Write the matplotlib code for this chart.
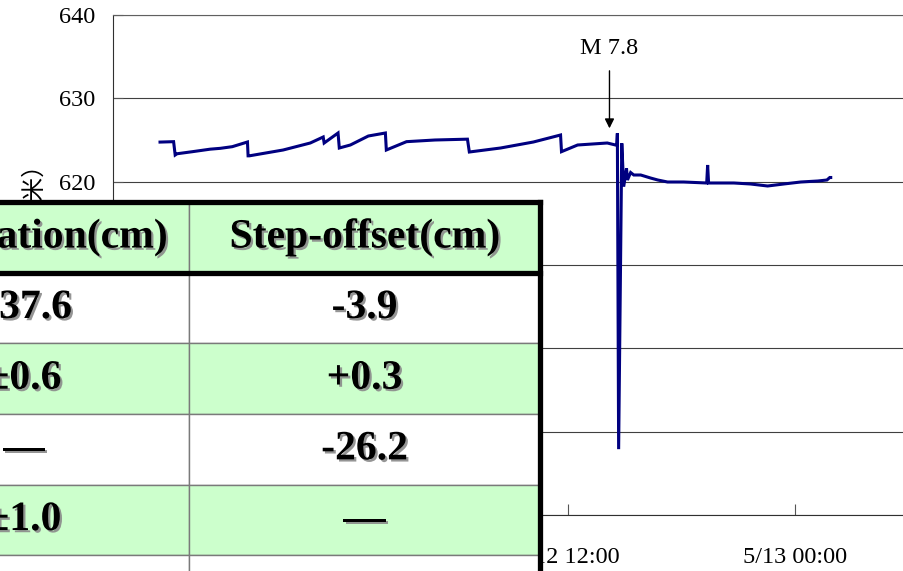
import matplotlib
matplotlib.use("Agg")
import matplotlib.pyplot as plt
import matplotlib.patheffects as pe
import pandas as pd

W, H = 904, 571

# ---------------- data ----------------
times = [
    "2008-05-11 14:29", "2008-05-11 15:12", "2008-05-11 15:17", "2008-05-11 15:23",
    "2008-05-11 16:12", "2008-05-11 17:08", "2008-05-11 17:40", "2008-05-11 18:18",
    "2008-05-11 19:06", "2008-05-11 19:08", "2008-05-11 19:12", "2008-05-11 20:59",
    "2008-05-11 22:25", "2008-05-11 23:06", "2008-05-11 23:09", "2008-05-11 23:53",
    "2008-05-11 23:57", "2008-05-12 00:32", "2008-05-12 01:29", "2008-05-12 02:23",
    "2008-05-12 02:26", "2008-05-12 03:30", "2008-05-12 05:00", "2008-05-12 06:43",
    "2008-05-12 06:49", "2008-05-12 08:28", "2008-05-12 10:12", "2008-05-12 11:38",
    "2008-05-12 11:41", "2008-05-12 12:32", "2008-05-12 14:06", "2008-05-12 14:32",
    "2008-05-12 14:36", "2008-05-12 14:38", "2008-05-12 14:42", "2008-05-12 14:52",
    "2008-05-12 14:58", "2008-05-12 15:07", "2008-05-12 15:10", "2008-05-12 15:20",
    "2008-05-12 15:30", "2008-05-12 15:52", "2008-05-12 16:23", "2008-05-12 16:46",
    "2008-05-12 17:17", "2008-05-12 17:36", "2008-05-12 18:08", "2008-05-12 19:21",
    "2008-05-12 19:24", "2008-05-12 19:27", "2008-05-12 20:47", "2008-05-12 21:40",
    "2008-05-12 22:34", "2008-05-12 23:25", "2008-05-13 00:19", "2008-05-13 01:13",
    "2008-05-13 01:42", "2008-05-13 01:51", "2008-05-13 01:54",
]
levels = [
    624.75, 624.80, 623.20, 623.35,
    623.60, 623.90, 624.00, 624.20,
    624.76, 623.10, 623.10, 623.80,
    624.64, 625.36, 624.64, 625.84,
    624.04, 624.40, 625.48, 625.84,
    623.80, 624.80, 625.00, 625.10,
    623.56, 624.04, 624.76, 625.60,
    623.60, 624.40, 624.64, 624.40,
    624.40, 625.80, 587.90, 624.60,
    619.40, 621.60, 620.20, 621.10,
    620.80, 620.80, 620.44, 620.20,
    619.96, 619.96, 619.96, 619.84,
    622.00, 619.84, 619.84, 619.72,
    619.48, 619.72, 619.96, 620.08,
    620.20, 620.50, 620.50,
]

x_start, x_end = "2008-05-11 12:00", "2008-05-13 12:00"
x_ticks = ["2008-05-11 12:00", "2008-05-12 00:00", "2008-05-12 12:00", "2008-05-13 00:00"]
x_tick_labels = ["5/11 12:00", "5/12 00:00", "5/12 12:00", "5/13 00:00"]
y_ticks = [580, 590, 600, 610, 620, 630, 640]
y_label = "水位（厘米）"

event_label = "M 7.8"
event_time = "2008-05-12 14:13"
event_text_y = 636.0
event_arrow_tail = 633.3
event_arrow_tip = 626.4

table_header = ["Fluctuation(cm)", "Step-offset(cm)"]
table_rows = [
    ["±37.6", "-3.9"],
    ["±0.6", "+0.3"],
    ["—", "-26.2"],
    ["±1.0", "—"],
    ["", ""],
]

# ---------------- figure ----------------
plt.rcParams["font.family"] = ["Liberation Serif", "Noto Sans CJK SC", "DejaVu Sans"]

fig = plt.figure(figsize=(W / 100, H / 100), dpi=100)

ax = fig.add_axes([113 / W, 1 - 515 / H, 909 / W, 500 / H])
t = pd.to_datetime(times)
ax.plot(t, levels, color="#000080", lw=2.2, solid_joinstyle="miter")

ax.set_xlim(pd.Timestamp(x_start), pd.Timestamp(x_end))
ax.set_ylim(y_ticks[0], y_ticks[-1])
ax.set_xticks(pd.to_datetime(x_ticks))
ax.set_xticklabels(x_tick_labels)
ax.set_yticks(y_ticks)
ax.grid(axis="y", color="#404040", lw=0.8)
ax.grid(axis="x", visible=False)
ax.spines["right"].set_visible(False)
ax.spines["top"].set_color("#606060")
ax.spines["top"].set_linewidth(0.8)
ax.spines["left"].set_color("#303030")
ax.spines["bottom"].set_color("#303030")
ax.tick_params(axis="y", direction="in", length=7, width=0.8, color="#555555",
               labelsize=17.5, pad=13)
ax.tick_params(axis="x", direction="in", length=8, width=0.8, color="#555555",
               labelsize=17.5, pad=23)

et = pd.Timestamp(event_time)
ax.annotate("", xy=(et, event_arrow_tip), xytext=(et, event_arrow_tail),
            arrowprops=dict(arrowstyle="-|>", color="black", lw=1.0,
                            mutation_scale=14, shrinkA=0, shrinkB=0))
ax.text(et, event_text_y, event_label, ha="center", va="center", fontsize=17.5)

ax.text((34 - 113) / 909, (515 - 152) / 500, y_label, transform=ax.transAxes,
        rotation=90, ha="center", va="top", fontsize=17,
        family=["Noto Sans CJK SC"], clip_on=False)

# ---------------- table overlay ----------------
left_px, right_px, top_px, row_h = -141, 540, 202, 70.67
n_rows = len(table_rows) + 1
tax = fig.add_axes([left_px / W, 1 - (top_px + n_rows * row_h) / H,
                    (right_px - left_px) / W, n_rows * row_h / H])
tax.axis("off")
col_split = (189 - left_px) / (right_px - left_px)
tbl = tax.table(cellText=[table_header] + table_rows, cellLoc="center",
                colWidths=[col_split, 1 - col_split], bbox=[0, 0, 1, 1])
tbl.auto_set_font_size(False)
shadow = [pe.SimplePatchShadow(offset=(1.6, -1.6), shadow_rgbFace="#8a8a8a", alpha=0.9),
          pe.Normal()]
for (r, c), cell in tbl.get_celld().items():
    cell.set_facecolor("#ccffcc" if r % 2 == 0 else "white")
    cell.set_edgecolor("#7a7a7a")
    cell.set_linewidth(1.0)
    txt = cell.get_text()
    txt.set_fontsize(30)
    txt.set_fontweight("bold")
    txt.set_fontfamily(["Liberation Serif", "DejaVu Serif"])
    txt.set_path_effects(shadow)

hb = 1 - 1 / n_rows
for xs, ys in [([0, 1], [1, 1]), ([0, 1], [hb, hb]), ([1, 1], [0, 1])]:
    tax.plot(xs, ys, transform=tax.transAxes, color="black", lw=3.8,
             clip_on=False, zorder=10, solid_capstyle="projecting")

fig.savefig("out.png", dpi=100)
